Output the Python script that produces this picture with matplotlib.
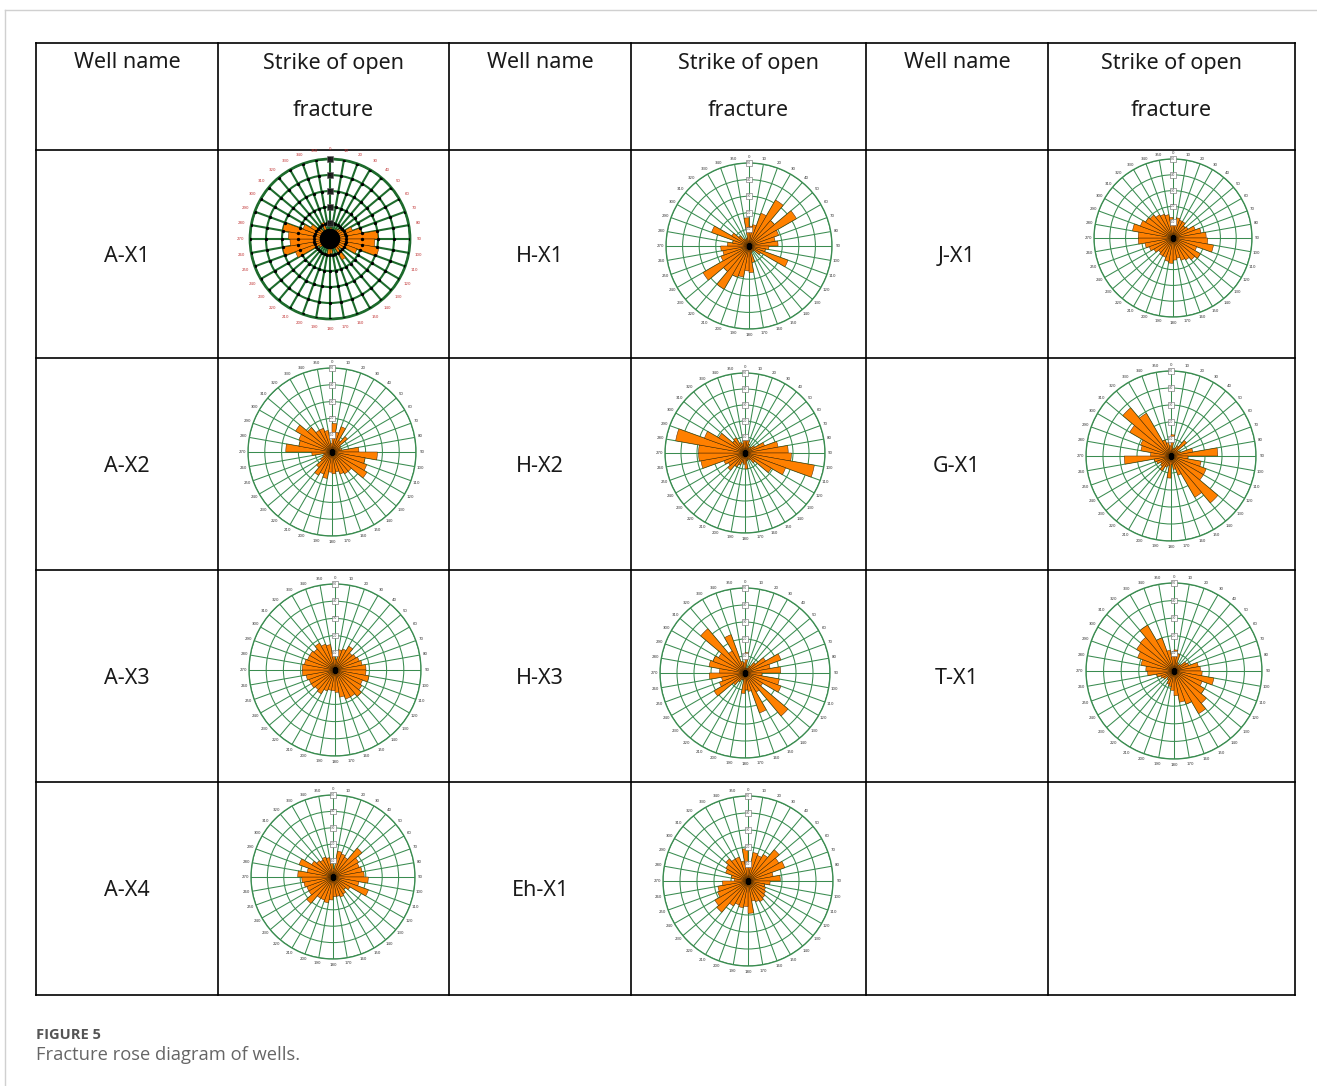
import numpy as np
import matplotlib
matplotlib.use('Agg')
import matplotlib.pyplot as plt

# strike bins (start of each 10 degree sector)
strikes = list(range(0, 360, 10))

# bar lengths in ring units (outer ring = 5)
a_x1 = [0.7, 0.5, 0.6, 0.7, 0.8, 0.9, 1.5, 2.0, 3.0, 2.8, 3.1, 1.8, 1.0, 0.8, 1.5, 0.6, 0.5, 0.9,
        1.0, 0.6, 0.5, 0.5, 0.6, 0.8, 2.3, 3.0, 2.5, 2.6, 3.0, 1.8, 1.4, 0.8, 0.6, 1.1, 0.6, 0.5]
h_x1 = [1.2, 1.3, 2.1, 3.2, 2.0, 3.3, 1.9, 1.6, 1.75, 1.2, 1.0, 2.5, 0.8, 0.4, 0.3, 0.4, 1.0, 1.6,
        1.5, 1.9, 2.0, 3.0, 2.0, 3.2, 1.8, 1.6, 1.7, 1.3, 1.0, 2.4, 1.2, 0.8, 0.5, 0.4, 0.5, 1.7]
j_x1 = [1.0, 1.3, 1.2, 1.2, 1.0, 1.1, 1.5, 1.8, 2.1, 2.2, 2.6, 1.6, 2.0, 1.8, 1.6, 1.5, 1.3, 1.4,
        1.6, 1.5, 1.3, 1.3, 1.2, 1.4, 1.6, 1.8, 2.2, 2.2, 2.6, 2.2, 2.0, 1.9, 1.7, 1.6, 1.5, 1.3]
a_x2 = [1.7, 1.2, 1.6, 0.8, 1.2, 0.6, 0.5, 0.6, 1.6, 2.7, 2.0, 2.2, 2.4, 1.5, 1.5, 1.4, 1.2, 1.3,
        1.2, 1.6, 1.4, 1.6, 1.2, 0.8, 0.6, 0.5, 1.2, 2.75, 2.0, 2.1, 2.5, 1.9, 1.5, 1.5, 1.3, 0.5]
h_x2 = [0.9, 0.8, 0.6, 0.4, 0.5, 0.7, 1.3, 2.1, 2.7, 2.9, 4.4, 2.7, 1.9, 0.8, 0.5, 0.4, 0.5, 1.0,
        0.7, 0.6, 0.8, 1.0, 1.4, 1.2, 1.4, 2.8, 2.9, 2.9, 4.4, 2.7, 1.9, 1.0, 1.1, 0.7, 0.6, 0.8]
g_x1 = [1.25, 0.4, 0.5, 0.7, 1.2, 0.5, 0.6, 1.3, 2.75, 1.0, 1.8, 2.2, 2.2, 3.6, 2.8, 1.2, 0.8, 0.5,
        1.3, 0.6, 0.7, 1.0, 0.8, 0.7, 0.9, 1.0, 2.75, 1.2, 1.8, 1.9, 2.8, 3.7, 2.9, 1.0, 0.8, 0.6]
a_x3 = [0.6, 1.2, 1.3, 1.6, 1.3, 1.4, 1.5, 1.6, 1.8, 1.8, 2.0, 1.7, 1.8, 2.0, 1.8, 1.8, 1.6, 1.3,
        1.2, 1.2, 1.3, 1.6, 1.5, 1.6, 1.6, 1.7, 1.9, 1.9, 1.8, 1.7, 1.7, 1.6, 1.8, 1.6, 1.5, 1.0]
h_x3 = [1.2, 0.3, 0.3, 0.5, 0.8, 1.4, 2.25, 1.5, 2.1, 1.0, 2.05, 2.25, 1.2, 3.3, 1.3, 2.5, 1.1, 1.0,
        1.2, 0.4, 0.4, 0.6, 0.9, 2.1, 1.6, 1.4, 2.1, 1.5, 2.15, 2.0, 1.8, 3.4, 1.5, 2.4, 0.7, 0.6]
t_x1 = [1.2, 1.0, 0.5, 0.4, 0.5, 0.8, 0.9, 1.4, 1.5, 1.6, 2.3, 1.7, 2.0, 2.4, 2.8, 2.0, 1.8, 1.4,
        1.1, 0.9, 0.8, 0.6, 0.5, 0.7, 0.8, 1.0, 1.5, 1.6, 1.9, 2.2, 2.45, 2.5, 3.0, 2.0, 1.2, 1.0]
a_x4 = [0.5, 1.6, 1.5, 1.4, 2.3, 1.8, 1.7, 1.8, 1.9, 2.15, 1.6, 2.3, 1.2, 1.0, 1.2, 1.3, 1.2, 1.2,
        1.4, 1.6, 1.5, 1.5, 2.1, 1.7, 1.7, 1.8, 1.9, 2.15, 1.6, 2.2, 1.5, 1.3, 1.2, 1.3, 1.2, 1.0]
eh_x1 = [0.8, 1.7, 1.6, 1.8, 2.4, 2.1, 2.3, 1.5, 1.9, 1.3, 1.0, 1.1, 1.2, 1.3, 1.4, 1.3, 1.2, 1.9,
         1.5, 1.6, 1.5, 1.7, 2.4, 2.25, 1.9, 1.8, 1.5, 0.8, 1.0, 1.4, 1.5, 1.7, 1.5, 1.5, 1.2, 1.9]

left_names = ['A-X1', 'A-X2', 'A-X3', 'A-X4']
mid_names = ['H-X1', 'H-X2', 'H-X3', 'Eh-X1']
right_names = ['J-X1', 'G-X1', 'T-X1']

W, H = 1317, 1086
fig = plt.figure(figsize=(W / 100, H / 100), dpi=100)
bg = fig.add_axes([0, 0, 1, 1])
bg.set_xlim(0, W)
bg.set_ylim(H, 0)
bg.axis('off')

# page frame
bg.plot([5, W], [10, 10], color='#d0d0d0', lw=1)
bg.plot([5, 5], [10, H], color='#d0d0d0', lw=1)

# table grid
xs = [36, 218, 449, 631, 866, 1048, 1295]
ys = [43, 150, 358, 570, 782, 995]
for x in xs:
    bg.plot([x, x], [ys[0], ys[-1]], color='black', lw=1.2)
for y in ys:
    bg.plot([xs[0], xs[-1]], [y, y], color='black', lw=1.2)

font = 'Noto Sans'
fs = 15.5
tc = '#1a1a1a'
for i in range(3):
    xa = (xs[2 * i] + xs[2 * i + 1]) / 2
    xb = (xs[2 * i + 1] + xs[2 * i + 2]) / 2
    bg.text(xa, 63, 'Well name', ha='center', va='center', fontsize=fs, family=font, color=tc)
    bg.text(xb, 63, 'Strike of open', ha='center', va='center', fontsize=fs, family=font, color=tc)
    bg.text(xb, 111, 'fracture', ha='center', va='center', fontsize=fs, family=font, color=tc)

row_mid = [(ys[k] + ys[k + 1]) / 2 + 2 for k in range(1, 5)]
for k, n in enumerate(left_names):
    bg.text((xs[0] + xs[1]) / 2, row_mid[k], n, ha='center', va='center', fontsize=fs, family=font, color=tc)
for k, n in enumerate(mid_names):
    bg.text((xs[2] + xs[3]) / 2, row_mid[k], n, ha='center', va='center', fontsize=fs, family=font, color=tc)
for k, n in enumerate(right_names):
    bg.text((xs[4] + xs[5]) / 2, row_mid[k], n, ha='center', va='center', fontsize=fs, family=font, color=tc)

# caption
bg.text(36, 1035, 'FIGURE 5', ha='left', va='center', fontsize=10.5, weight='bold', family='Open Sans', color='#555555')
bg.text(36, 1055, 'Fracture rose diagram of wells.', ha='left', va='center', fontsize=13.2, family='Open Sans', color='#666666')


def rose(cx, cy, r, vals, old=False):
    ax = fig.add_axes([(cx - r) / W, 1 - (cy + r) / H, 2 * r / W, 2 * r / H], projection='polar')
    ax.set_theta_zero_location('N')
    ax.set_theta_direction(-1)
    grid_c = '#1d6b2c' if old else '#3a8c50'
    grid_w = 1.5 if old else 0.75
    ax.set_axisbelow(True)
    ax.bar(np.deg2rad(strikes), vals, width=np.deg2rad(10), align='edge',
           color='#ff8000', edgecolor='#4a2800', linewidth=0.35, zorder=2)
    ax.set_ylim(0, 5)
    ax.set_yticks([1, 2, 3, 4, 5])
    ax.set_yticklabels([])
    ax.set_xticks(np.deg2rad(strikes))
    ax.set_xticklabels([])
    ax.grid(True, color=grid_c, lw=grid_w)
    ax.spines['polar'].set_color(grid_c)
    ax.spines['polar'].set_linewidth(grid_w * 1.3)
    ax.set_facecolor('none')
    lab_r = 5.6 if old else 5.35
    for s in strikes:
        ax.text(np.deg2rad(s), lab_r, str(s), fontsize=2.8, ha='center', va='center',
                color='#c03030' if old else '#333333', clip_on=False)
    for rr in [1, 2, 3, 4, 5]:
        ax.text(0, rr, '%d.0' % rr, fontsize=2, ha='center', va='center', zorder=4,
                color='black' if old else '#444444',
                bbox=dict(boxstyle='square,pad=0.3', fc='#222222' if old else 'white',
                          ec='#666666', lw=0.4))
    if old:
        th, rr = np.meshgrid(np.deg2rad(strikes), [1, 2, 3, 4, 5])
        ax.scatter(th.ravel(), rr.ravel(), s=2, color='black', zorder=3)
        t = np.linspace(0, 2 * np.pi, 100)
        ax.fill(t, np.full(100, 0.6), color='black', zorder=3)
    else:
        ax.plot(0, 0, marker='s', color='black', ms=2.5, zorder=3)
    return ax


rose(330, 239, 80, a_x1, old=True)
rose(749, 246, 83, h_x1)
rose(1173, 238, 79, j_x1)
rose(332, 452, 84, a_x2)
rose(745, 453, 80, h_x2)
rose(1171, 456, 85, g_x1)
rose(335, 670, 86, a_x3)
rose(745, 673, 85, h_x3)
rose(1174, 671, 88, t_x1)
rose(333, 877, 82, a_x4)
rose(748, 881, 85, eh_x1)

fig.savefig('out.png', dpi=100)
